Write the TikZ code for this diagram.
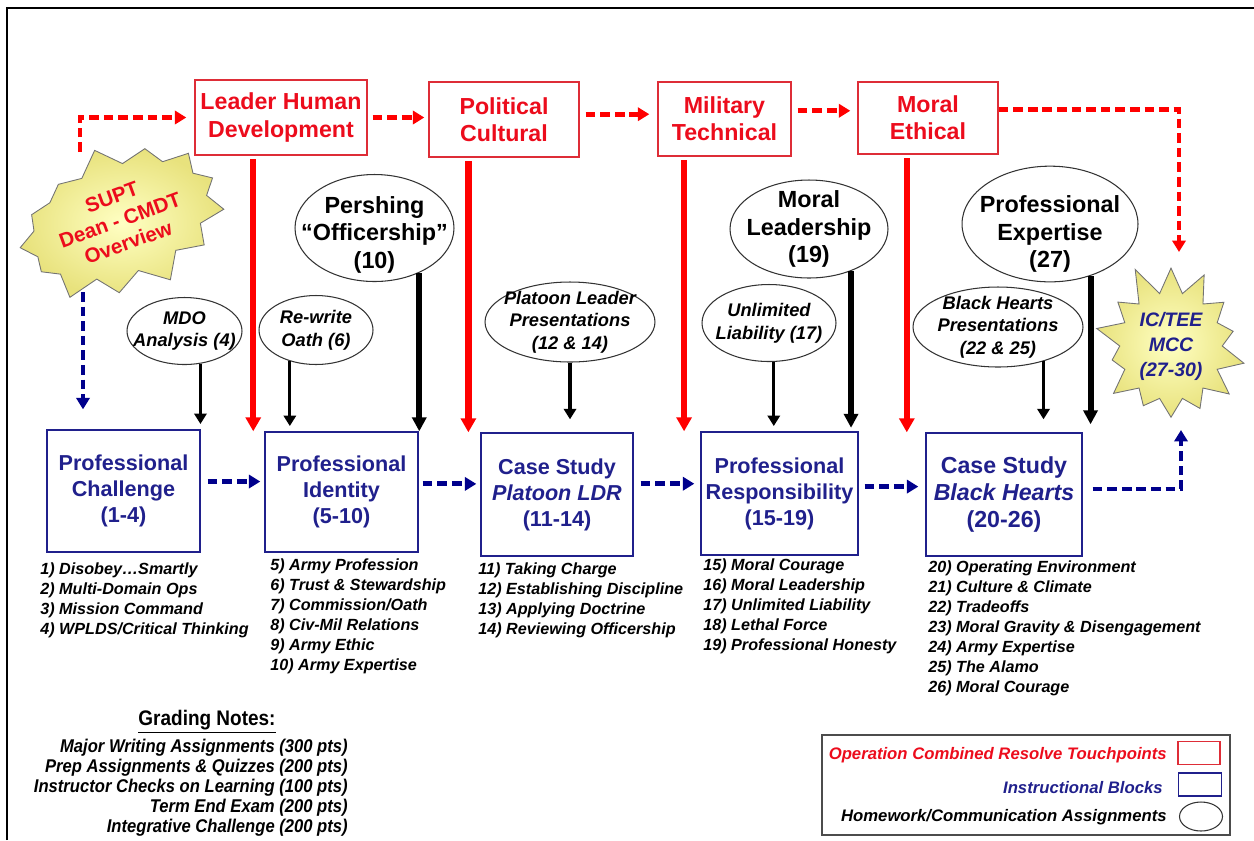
\documentclass[tikz,border=0pt]{standalone}
\usepackage{fontspec}
\setmainfont{Liberation Sans}
\newfontfamily\narrowfont[FakeStretch=0.9]{Liberation Sans}
\usepackage{tikz}
\usetikzlibrary{arrows.meta,positioning,calc,shapes.geometric,shapes.symbols}

\definecolor{touchred}{RGB}{222,45,55}
\definecolor{ocrred}{RGB}{236,12,28}
\definecolor{blocknavy}{RGB}{32,32,140}
\definecolor{dashnavy}{RGB}{0,0,140}
\definecolor{burstlight}{RGB}{255,255,195}
\definecolor{burstdark}{RGB}{232,226,125}

\begin{document}
\begin{tikzpicture}[x=0.02cm,y=-0.02cm,>=Latex,
  touch/.style={draw=touchred,line width=0.8pt,text=ocrred,align=center,inner sep=0pt,font=\fontsize{13.2}{15.4}\selectfont\bfseries},
  block/.style={draw=blocknavy,line width=0.8pt,text=blocknavy,align=center,inner sep=0pt,font=\fontsize{12.3}{14.8}\selectfont\bfseries},
  bigoval/.style={ellipse,draw=black!80,line width=0.6pt,align=center,inner xsep=-12pt,inner ysep=-4pt,font=\fontsize{13.3}{15.4}\selectfont\bfseries},
  hw/.style={ellipse,draw=black!80,line width=0.6pt,align=center,inner xsep=-8pt,inner ysep=-3pt,font=\fontsize{10.4}{13}\selectfont\bfseries\itshape},
  burst/.style={starburst,draw=black!55,line width=0.5pt,inner color=burstlight,outer color=burstdark,align=center,inner sep=0pt},
  topics/.style={anchor=north west,align=left,inner sep=0pt,font=\fontsize{9.2}{11.4}\selectfont\bfseries\itshape},
  grade/.style={inner sep=0pt,font=\narrowfont\fontsize{10.5}{11.4}\selectfont\bfseries\itshape},
  key/.style={anchor=east,inner sep=0pt,font=\fontsize{9.5}{11}\selectfont\bfseries\itshape},
  redarr/.style={red,line width=3.6pt,-{Triangle[length=8pt,width=8.5pt]},shorten <=2pt},
  essayarr/.style={black,line width=3.4pt,-{Triangle[length=8pt,width=8pt]}},
  hwarr/.style={black,line width=1.8pt,-{Triangle[length=6pt,width=7pt]},shorten >=3pt},
  reddash/.style={red,line width=2.8pt,dash pattern=on 5.5pt off 2.8pt,-{Triangle[length=6.5pt,width=7.5pt]}},
  navydash/.style={dashnavy,line width=2.8pt,dash pattern=on 5.5pt off 2.8pt,-{Triangle[length=6.5pt,width=7.5pt]}}]
\useasboundingbox (0,0) rectangle (1254,840);
\draw[line width=1.6pt] (7,840) -- (7,8) -- (1254,8);

% touchpoints
\node[touch,minimum width=3.44cm,minimum height=1.5cm] (lhd) at (281,117.5) {Leader Human\\Development};
\node[touch,minimum width=3.0cm,minimum height=1.5cm] (pol) at (504,119.5) {Political\\Cultural};
\node[touch,minimum width=2.66cm,minimum height=1.48cm] (mil) at (724.5,119) {Military\\Technical};
\node[touch,minimum width=2.8cm,minimum height=1.44cm] (mor) at (928,118) {Moral\\Ethical};

% instructional blocks
\node[block,minimum width=3.06cm,minimum height=2.44cm] (chal) at (123.5,491) {Professional\\Challenge\\(1-4)};
\node[block,minimum width=3.06cm,minimum height=2.4cm] (iden) at (341.5,492) {Professional\\Identity\\(5-10)};
\node[block,minimum width=3.04cm,minimum height=2.46cm] (plt) at (557,494.5) {Case Study\\\textit{Platoon LDR}\\(11-14)};
\node[block,minimum width=3.14cm,minimum height=2.46cm] (resp) at (779.5,493.5) {Professional\\Responsibility\\(15-19)};
\node[block,minimum width=3.12cm,minimum height=2.46cm,font=\fontsize{13.2}{15.6}\selectfont\bfseries] (bhs) at (1004,494.5) {Case Study\\\textit{Black Hearts}\\(20-26)};

% assignments
\node[bigoval,minimum width=3.18cm,minimum height=2.0cm] (pers) at (374.5,228) {\rule{0pt}{17.5pt}Pershing\\“Officership”\\(10)};
\node[bigoval,minimum width=3.16cm,minimum height=1.96cm] (morl) at (809,229) {Moral\\Leadership\\(19)};
\node[bigoval,minimum width=3.52cm,minimum height=2.04cm] (pexp) at (1050,224) {\rule{0pt}{21pt}Professional\\Expertise\\(27)};
\node[hw,minimum width=2.3cm,minimum height=1.34cm] (mdo) at (184.5,331) {MDO\\Analysis (4)};
\node[hw,minimum width=2.28cm,minimum height=1.38cm] (oath) at (316,330) {Re-write\\Oath (6)};
\node[hw,minimum width=3.4cm,minimum height=1.6cm,font=\fontsize{10.4}{12.8}\selectfont\bfseries\itshape] (plp) at (570,322) {Platoon Leader\\Presentations\\(12 \& 14)};
\node[hw,minimum width=2.68cm,minimum height=1.54cm] (ulib) at (769,323) {Unlimited\\Liability (17)};
\node[hw,minimum width=3.4cm,minimum height=1.6cm,font=\fontsize{10.4}{12.8}\selectfont\bfseries\itshape] (bhp) at (998,327) {Black Hearts\\Presentations\\(22 \& 25)};

% bursts
\node[burst,minimum width=4.3cm,minimum height=3.05cm,starburst points=13,starburst point height=0.45cm,random starburst=7,rotate=20,text=ocrred,font=\fontsize{11.7}{13.7}\selectfont\bfseries] (supt) at (120,220) {SUPT\\Dean - CMDT\\Overview};
\node[burst,minimum width=3.35cm,minimum height=3.45cm,starburst points=14,starburst point height=0.65cm,random starburst=11,text=blocknavy,font=\fontsize{11.1}{14.2}\selectfont\bfseries\itshape] (ictee) at (1171,346) {IC/TEE\\MCC\\(27-30)};
\coordinate (supttop) at (80,152);
\coordinate (suptfoot) at (83,292);
\coordinate (ictop) at (1179,252);
\coordinate (icfoot) at (1181,430);

% touchpoint chain
\draw[reddash] (supttop) |- ([xshift=-0.16cm]lhd.west);
\draw[reddash,shorten <=0.1cm,shorten >=0.08cm] (lhd.east) -- (lhd.east -| pol.west);
\draw[reddash,shorten <=0.12cm,shorten >=0.16cm] (pol.4) -- (pol.4 -| mil.west);
\draw[reddash,shorten <=0.12cm,shorten >=0.14cm] (mil.7) -- (mil.7 -| mor.west);
\draw[reddash] (mor.7) -| (ictop);
\draw[redarr] (lhd.-126) -- (lhd.-126 |- iden.north);
\draw[redarr] (pol.-133) -- (pol.-133 |- plt.north);
\draw[redarr] (mil.-137) -- (mil.-137 |- resp.north);
\draw[redarr] (mor.-120) -- (mor.-120 |- bhs.north);

% block chain
\draw[navydash,shorten >=0.4cm] (suptfoot) -- (suptfoot |- chal.north);
\draw[navydash,shorten <=0.14cm,shorten >=0.08cm] (chal.7) -- (chal.7 -| iden.west);
\draw[navydash,shorten <=0.08cm,shorten >=0.08cm] (iden.6) -- (iden.6 -| plt.west);
\draw[navydash,shorten <=0.14cm,shorten >=0.12cm] (plt.8) -- (plt.8 -| resp.west);
\draw[navydash,shorten <=0.12cm,shorten >=0.14cm] (resp.5) -- (resp.5 -| bhs.west);
\draw[navydash,shorten <=0.2cm] (bhs.4) -| (icfoot);

% assignment arrows
\draw[hwarr] (mdo.-64) -- (mdo.-64 |- chal.north);
\draw[hwarr] (oath.-130) -- (oath.-130 |- iden.north);
\draw[essayarr] (pers.-45) -- (pers.-45 |- iden.north);
\draw[hwarr,shorten >=0.26cm] (plp.south) -- (plp.south |- plt.north);
\draw[hwarr] (ulib.-83) -- (ulib.-83 |- resp.north);
\draw[essayarr,shorten >=2pt] (morl.-45) -- (morl.-45 |- resp.north);
\draw[hwarr,shorten >=0.26cm] (bhp.-37) -- (bhp.-37 |- bhs.north);
\draw[essayarr,shorten >=0.16cm] (pexp.-52) -- (pexp.-52 |- bhs.north);

% lesson lists
\node[topics] (chalList) at (40,562) {1) Disobey…Smartly\\2) Multi-Domain Ops\\3) Mission Command\\4) WPLDS/Critical Thinking};
\node[topics] (idenList) at (270,558) {5) Army Profession\\6) Trust \& Stewardship\\7) Commission/Oath\\8) Civ-Mil Relations\\9) Army Ethic\\10) Army Expertise};
\node[topics] (pltList) at (478,562) {11) Taking Charge\\12) Establishing Discipline\\13) Applying Doctrine\\14) Reviewing Officership};
\node[topics] (respList) at (703,558) {15) Moral Courage\\16) Moral Leadership\\17) Unlimited Liability\\18) Lethal Force\\19) Professional Honesty};
\node[topics] (bhsList) at (928,560) {20) Operating Environment\\21) Culture \& Climate\\22) Tradeoffs\\23) Moral Gravity \& Disengagement\\24) Army Expertise\\25) The Alamo\\26) Moral Courage};

% grading notes
\node[inner sep=0pt,font=\narrowfont\fontsize{12}{14}\selectfont\bfseries] (gradeHead) at (207,722) {\underline{Grading Notes:}};
\node[grade,anchor=north east,align=right] (gradeList) at (348,739) {Major Writing Assignments (300 pts)\\Prep Assignments \& Quizzes (200 pts)\\Instructor Checks on Learning (100 pts)\\Term End Exam (200 pts)\\Integrative Challenge (200 pts)};

% legend
\node[draw=black!70,line width=1pt,minimum width=8.16cm,minimum height=2.0cm] (legend) at (1026,785) {};
\node[key,text=ocrred] (keyTouch) at (1167,755) {Operation Combined Resolve Touchpoints};
\node[key,text=blocknavy] (keyBlock) at (1163,788) {Instructional Blocks};
\node[key] (keyHw) at (1167,817) {Homework/Communication Assignments};
\node[draw=touchred,line width=0.8pt,minimum width=0.84cm,minimum height=0.46cm] (swTouch) at (1199,753) {};
\node[draw=blocknavy,line width=0.8pt,minimum width=0.86cm,minimum height=0.46cm] (swBlock) at (1200,784.5) {};
\node[ellipse,draw=black!80,line width=0.6pt,minimum width=0.86cm,minimum height=0.58cm] (swHw) at (1201,816.5) {};
\end{tikzpicture}
\end{document}
